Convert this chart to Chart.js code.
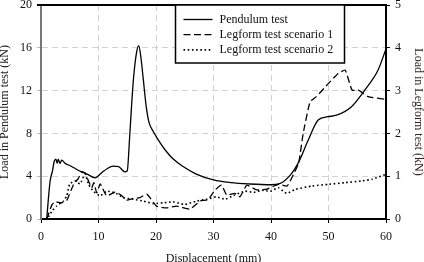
<!DOCTYPE html>
<html>
<head>
<meta charset="utf-8">
<script src="https://cdn.jsdelivr.net/npm/chart.js@4/dist/chart.umd.min.js"></script>
<style>
  html, body { margin: 0; padding: 0; background: #fff; }
  canvas { display: block; }
</style>
</head>
<body>
<canvas id="load-chart" width="424" height="262"></canvas>
<script>
// displacement (mm) / load (kN)
const pendulumX = [1.0, 1.3, 1.6, 2.0, 2.3, 2.6, 2.8, 3.0, 3.3, 3.6, 4.2, 5.0, 6.0, 7.1, 8.0, 9.4, 10.5, 11.5, 12.5, 13.5, 14.6, 15.0, 15.4, 15.8, 16.1, 16.6, 17.0, 17.4, 17.8, 18.3, 18.8, 19.5, 20.5, 21.6, 23.0, 24.7, 27.0, 30.0, 33.0, 36.3, 40.0, 41.5, 43.5, 44.7, 46.5, 48.2, 49.9, 51.4, 54.0, 56.3, 58.6, 60.0]
const pendulumLoad = [0, 2.0, 3.6, 4.5, 5.4, 5.6, 5.2, 5.6, 5.2, 5.5, 5.2, 5.0, 4.7, 4.4, 4.2, 3.85, 4.3, 4.7, 4.95, 4.9, 4.4, 4.5, 7.5, 11.0, 13.2, 15.5, 16.2, 15.0, 13.0, 10.5, 9.0, 8.2, 7.3, 6.45, 5.6, 4.9, 4.2, 3.65, 3.4, 3.27, 3.2, 3.3, 4.2, 5.2, 7.4, 9.25, 9.56, 9.7, 10.5, 12.05, 13.9, 15.9]

const legform1X = [1.0, 1.9, 2.4, 3.6, 4.5, 5.6, 6.5, 7.1, 7.65, 8.8, 9.2, 9.7, 10.3, 11.4, 12.9, 14.0, 14.9, 16.0, 17.2, 18.4, 20.1, 21.9, 23.6, 25.9, 27.7, 29.0, 30.3, 31.4, 32.3, 33.7, 34.6, 35.8, 37.5, 39.3, 41.3, 42.8, 43.9, 44.8, 45.6, 46.8, 47.9, 50.0, 51.7, 52.9, 54.1, 55.2, 56.9, 59.8]
const legform1Load = [0, 0.33, 0.40, 0.38, 0.44, 0.79, 0.95, 1.1, 1.08, 0.73, 0.85, 0.61, 0.82, 0.54, 0.63, 0.55, 0.44, 0.48, 0.50, 0.58, 0.30, 0.26, 0.30, 0.23, 0.42, 0.45, 0.68, 0.79, 0.56, 0.6, 0.52, 0.79, 0.68, 0.7, 0.81, 0.77, 1.04, 1.3, 2.0, 2.74, 2.86, 3.17, 3.40, 3.48, 3.01, 3.01, 2.86, 2.8]

const legform2X = [1.3, 2.0, 2.7, 3.9, 4.5, 5.0, 5.9, 6.8, 7.65, 8.3, 9.1, 10.3, 11.4, 12.9, 14.3, 16.1, 17.8, 19.5, 21.3, 23.0, 25.0, 27.1, 28.8, 30.5, 32.0, 33.5, 35.5, 37.0, 38.4, 39.9, 41.3, 42.7, 44.2, 47.1, 50.0, 52.9, 55.8, 57.6, 59.9]
const legform2Load = [0.05, 0.2, 0.3, 0.42, 0.55, 0.82, 0.89, 0.82, 1.05, 0.8, 0.65, 0.54, 0.65, 0.61, 0.5, 0.46, 0.42, 0.36, 0.38, 0.40, 0.34, 0.42, 0.46, 0.52, 0.46, 0.55, 0.65, 0.62, 0.67, 0.65, 0.73, 0.6, 0.69, 0.77, 0.81, 0.85, 0.89, 0.93, 1.04]

const seriesNames = ["Pendulum test", "Legform test scenario 1", "Legform test scenario 2"]

const serif = "'Liberation Serif', 'Times New Roman', serif"

function points(xs, ys) {
    return xs.map((x, i) => ({ x: x, y: ys[i] }))
}

// boxed legend in the upper right of the plot, plus the top frame line
const frameAndLegend = {
    id: 'frameAndLegend',
    afterDraw(chart) {
        const ctx = chart.ctx
        const area = chart.chartArea
        ctx.save()
        ctx.strokeStyle = '#000'
        ctx.lineWidth = 2
        ctx.beginPath()
        ctx.moveTo(area.left - 4, area.top)
        ctx.lineTo(area.right, area.top)
        ctx.stroke()

        const boxLeft = area.left + 134.5
        ctx.fillStyle = '#fff'
        ctx.fillRect(boxLeft, area.top, 169, 58)
        ctx.lineWidth = 1.5
        ctx.strokeRect(boxLeft, area.top, 169, 58)

        ctx.font = '12px ' + serif
        ctx.textBaseline = 'middle'
        chart.data.datasets.forEach((ds, i) => {
            const y = area.top + 14.5 + i * 15.2
            ctx.lineWidth = ds.borderWidth
            ctx.setLineDash(ds.borderDash || [])
            ctx.beginPath()
            ctx.moveTo(boxLeft + 8, y)
            ctx.lineTo(boxLeft + 37, y)
            ctx.stroke()
            ctx.setLineDash([])
            ctx.fillStyle = '#111'
            ctx.fillText(ds.label, boxLeft + 44, y)
        })
        ctx.restore()
    }
}

function fixSize(prop, size) {
    return function (scale) {
        scale[prop] = size
        scale.paddingTop = 0
        scale.paddingBottom = 0
        scale.paddingLeft = 0
        scale.paddingRight = 0
    }
}

const loadCanvas = document.getElementById("load-chart")

let loadChart = new Chart(loadCanvas, {
    type: 'line',
    data: {
        datasets: [{
            label: seriesNames[0],
            data: points(pendulumX, pendulumLoad),
            yAxisID: 'y',
            borderColor: '#000',
            borderWidth: 1.3,
            pointRadius: 0,
            cubicInterpolationMode: 'monotone'
        }, {
            label: seriesNames[1],
            data: points(legform1X, legform1Load),
            yAxisID: 'y2',
            borderColor: '#000',
            borderWidth: 1.3,
            borderDash: [7, 3.5],
            pointRadius: 0,
            tension: 0.15
        }, {
            label: seriesNames[2],
            data: points(legform2X, legform2Load),
            yAxisID: 'y2',
            borderColor: '#000',
            borderWidth: 1.6,
            borderDash: [1.6, 2.6],
            pointRadius: 0,
            tension: 0.15
        }]
    },
    options: {
        responsive: false,
        animation: false,
        devicePixelRatio: 1,
        layout: { padding: { top: 5, left: 0, right: 0, bottom: 0 } },
        plugins: {
            legend: { display: false },
            tooltip: { enabled: false }
        },
        scales: {
            x: {
                type: 'linear',
                min: 0,
                max: 60,
                ticks: { stepSize: 10, padding: 7, color: '#111', font: { family: serif, size: 12 } },
                grid: { color: '#d2d2d2', tickColor: '#000', tickLength: 4, lineWidth: 1 },
                border: { color: '#000', width: 2, dash: [6, 4] },
                title: {
                    display: true,
                    text: 'Displacement (mm)',
                    color: '#111',
                    padding: { top: 0, bottom: -2.5 },
                    font: { family: serif, size: 12, lineHeight: 1 }
                },
                afterFit: fixSize('height', 43)
            },
            y: {
                position: 'left',
                min: 0,
                max: 20,
                ticks: { stepSize: 4, padding: 5, color: '#111', font: { family: serif, size: 12 } },
                grid: { color: '#d2d2d2', tickColor: '#bbb', tickLength: 4, lineWidth: 1 },
                border: { color: '#777', width: 2, dash: [6, 4] },
                title: {
                    display: true,
                    text: 'Load in Pendulum test (kN)',
                    color: '#222',
                    padding: { top: -1.5, bottom: 0 },
                    font: { family: serif, size: 12, lineHeight: 1 }
                },
                afterFit: fixSize('width', 41)
            },
            y2: {
                position: 'right',
                min: 0,
                max: 5,
                ticks: { stepSize: 1, padding: 5, color: '#111', font: { family: serif, size: 12 } },
                grid: { drawOnChartArea: false, tickColor: '#000', tickLength: 4 },
                border: { color: '#000', width: 2 },
                title: {
                    display: true,
                    text: 'Load in Legform test (kN)',
                    color: '#3b2424',
                    padding: 0,
                    font: { family: serif, size: 12, lineHeight: 1 }
                },
                afterFit: fixSize('width', 38)
            }
        }
    },
    plugins: [frameAndLegend]
})
</script>
</body>
</html>
